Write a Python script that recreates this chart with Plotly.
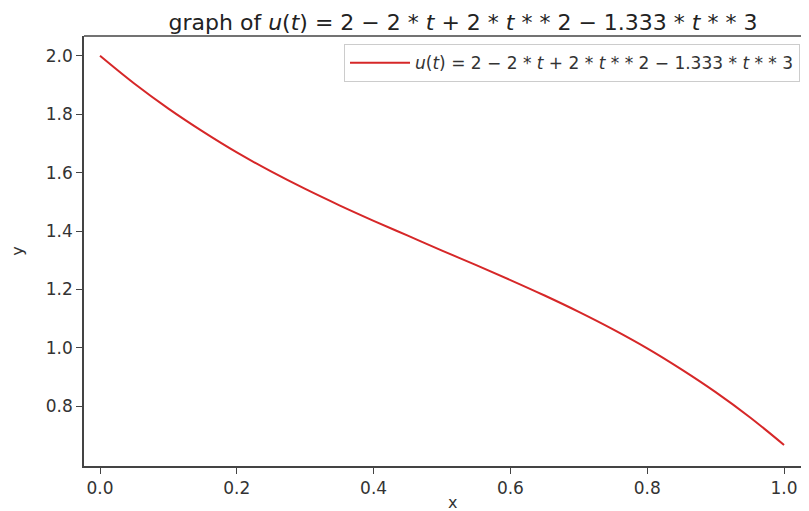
import plotly.graph_objects as go

# values
t_vals = [0.0, 0.05, 0.1, 0.15, 0.2, 0.25, 0.3, 0.35, 0.4, 0.45, 0.5,
          0.55, 0.6, 0.65, 0.7, 0.75, 0.8, 0.85, 0.9, 0.95, 1.0]
u_vals = [2.0, 1.905, 1.819, 1.741, 1.669, 1.604, 1.544, 1.488, 1.435, 1.384, 1.333,
          1.283, 1.232, 1.179, 1.123, 1.063, 0.998, 0.926, 0.848, 0.762, 0.667]
x_ticks = [0.0, 0.2, 0.4, 0.6, 0.8, 1.0]
y_ticks = [0.8, 1.0, 1.2, 1.4, 1.6, 1.8, 2.0]

formula = "<i>u</i>(<i>t</i>) = 2 − 2 * <i>t</i> + 2 * <i>t</i> * * 2 − 1.333 * <i>t</i> * * 3"

fig = go.Figure()
fig.add_trace(go.Scatter(
    x=t_vals, y=u_vals, mode="lines", name=formula,
    line=dict(color="#d62728", width=2, shape="spline"),
))

txt = "#333333"
fig.update_layout(
    width=809, height=511,
    margin=dict(l=76, r=8, t=28, b=53),
    paper_bgcolor="white", plot_bgcolor="white",
    font=dict(family="DejaVu Sans", size=17, color=txt),
    title=dict(text="graph of " + formula, x=(463 - 84) / 725, xref="paper",
               xanchor="center", y=1 - 14 / 511, yref="container", yanchor="middle",
               font=dict(size=22, color="#222222")),
    showlegend=True,
    legend=dict(x=0.9876, y=0.981, xanchor="right", yanchor="top",
                bordercolor="#cccccc", borderwidth=1, bgcolor="white",
                itemwidth=60, font=dict(size=17, color=txt)),
    xaxis=dict(range=[-0.0234, 1.0365], tickvals=x_ticks,
               ticktext=[f"{v:.1f}" for v in x_ticks], automargin=False,
               showgrid=False, zeroline=False, showline=True, linecolor="#444444",
               linewidth=1.5, ticks="outside", ticklen=6, tickcolor="#444444"),
    yaxis=dict(range=[0.595, 2.068], tickvals=y_ticks,
               ticktext=[f"{v:.1f}" for v in y_ticks], automargin=False,
               showgrid=False, zeroline=False, showline=True, linecolor="#444444",
               linewidth=1.5, ticks="outside", ticklen=6, tickcolor="#444444",
               title=dict(text="y", standoff=32, font=dict(size=16))),
    shapes=[dict(type="line", xref="paper", yref="paper", x0=0, x1=1, y0=1, y1=1,
                 line=dict(color="#444444", width=1.5))],
    annotations=[dict(text="x", xref="paper", yref="paper", x=(452 - 84) / 725,
                      y=-(494 - 458) / 430, xanchor="center", yanchor="middle",
                      showarrow=False, font=dict(size=16, color=txt))],
)

fig.write_html("out.html")
